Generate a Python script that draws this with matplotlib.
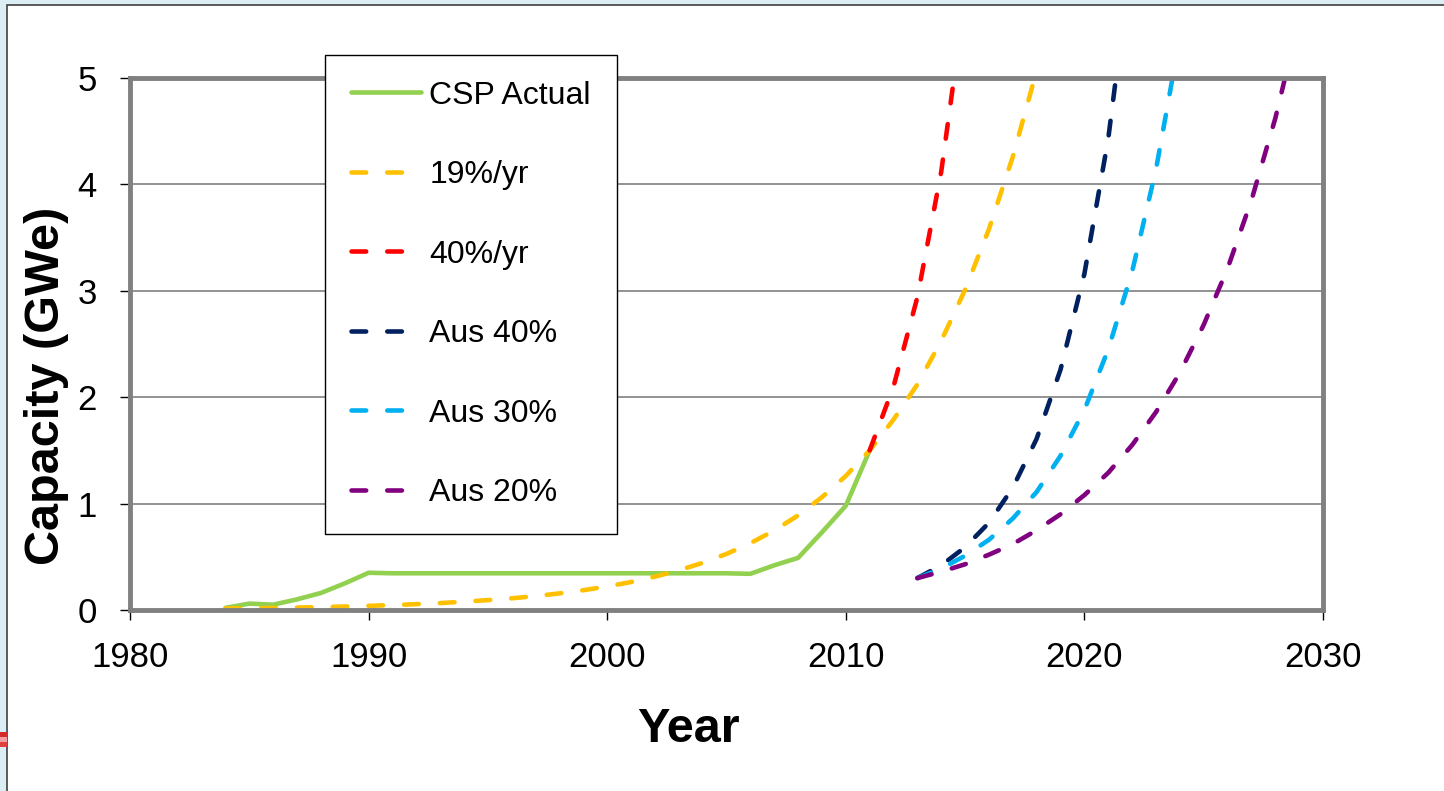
import matplotlib
matplotlib.use("Agg")
import matplotlib.pyplot as plt
from matplotlib.patches import Rectangle

plt.rcParams['font.family'] = ['Liberation Sans', 'DejaVu Sans']

# CSP installed capacity (GWe)
actual_years = [1984, 1985, 1986, 1987, 1988, 1989, 1990, 1991, 1995, 2000,
                2005, 2006, 2007, 2008, 2009, 2010, 2011]
actual_cap = [0.02, 0.06, 0.05, 0.10, 0.16, 0.25, 0.35, 0.345, 0.345, 0.345,
              0.345, 0.34, 0.42, 0.49, 0.73, 0.98, 1.50]

g19_years = list(range(1984, 2019))
g19_cap = [0.014, 0.016, 0.019, 0.023, 0.027, 0.033, 0.039, 0.046, 0.055, 0.065,
           0.078, 0.093, 0.110, 0.131, 0.156, 0.186, 0.221, 0.263, 0.313, 0.373,
           0.443, 0.527, 0.628, 0.747, 0.889, 1.06, 1.26, 1.50, 1.79, 2.12,
           2.53, 3.01, 3.58, 4.26, 5.07]

g40_years = [2011, 2012, 2013, 2014, 2015]
g40_cap = [1.50, 2.10, 2.94, 4.12, 5.76]

aus40_years = list(range(2013, 2023))
aus40_cap = [0.30, 0.42, 0.59, 0.82, 1.15, 1.61, 2.26, 3.16, 4.43, 6.20]

aus30_years = list(range(2013, 2025))
aus30_cap = [0.30, 0.39, 0.51, 0.66, 0.86, 1.11, 1.45, 1.88, 2.45, 3.18, 4.14, 5.38]

aus20_years = list(range(2013, 2030))
aus20_cap = [0.30, 0.36, 0.43, 0.52, 0.62, 0.75, 0.90, 1.08, 1.29, 1.55, 1.86,
             2.23, 2.68, 3.21, 3.85, 4.62, 5.55]

x_ticks = [1980, 1990, 2000, 2010, 2020, 2030]
y_ticks = [0, 1, 2, 3, 4, 5]

W, H = 1444, 791
fig = plt.figure(figsize=(W / 100, H / 100), dpi=100, facecolor='#daeef3')

# white slide panel with dark edge on left/top (kept behind the axes)
fig.patches.append(Rectangle((7 / W, -0.1), 1.2, 1.1 - 5 / H, transform=fig.transFigure,
                             facecolor='white', edgecolor='#404040', linewidth=1.2,
                             zorder=-10))
# small red fragment at the left edge
for y0, c in [(737, '#d42a2a'), (742, '#f0a0a0'), (747, '#e04040')]:
    fig.patches.append(Rectangle((0, 1 - y0 / H), 7 / W, 5 / H, transform=fig.transFigure,
                                 facecolor=c, edgecolor='none', zorder=-5))

ax = fig.add_axes([130 / W, 1 - 610 / H, (1323 - 130) / W, (610 - 78) / H])
ax.set_facecolor('white')

lw = 3.3
dash_kw = dict(linewidth=lw, dashes=(3.2, 4.6), dash_capstyle='round', solid_capstyle='round')

ax.plot(actual_years, actual_cap, color='#92d050', linewidth=lw, solid_capstyle='round',
        label='CSP Actual')
ax.plot(g19_years, g19_cap, color='#ffc000', label='19%/yr', **dash_kw)
ax.plot(g40_years, g40_cap, color='#ff0000', label='40%/yr', **dash_kw)
ax.plot(aus40_years, aus40_cap, color='#002060', label='Aus 40%', **dash_kw)
ax.plot(aus30_years, aus30_cap, color='#00b0f0', label='Aus 30%', **dash_kw)
ax.plot(aus20_years, aus20_cap, color='#800080', label='Aus 20%', **dash_kw)

ax.set_xlim(1980, 2030)
ax.set_ylim(0, 5)
ax.set_xticks(x_ticks)
ax.set_yticks(y_ticks)
ax.yaxis.grid(True, color='#808080', linewidth=1.2)
for s in ax.spines.values():
    s.set_color('#808080')
    s.set_linewidth(3.5)
ax.tick_params(axis='both', direction='out', length=7, width=1, color='black',
               labelsize=25, labelcolor='black')
ax.tick_params(axis='x', pad=15)
ax.tick_params(axis='y', pad=17)

fig.text(47 / W, 1 - 386 / H, 'Capacity (GWe)', rotation=90, ha='center', va='center',
         fontsize=35, fontweight='bold')
fig.text(688 / W, 1 - 742 / H, 'Year', ha='center', va='baseline',
         fontsize=35, fontweight='bold')

leg = fig.legend(loc='upper left', bbox_to_anchor=(325 / W, 1 - 55 / H),
                 bbox_transform=fig.transFigure, fontsize=23, frameon=True,
                 fancybox=False, shadow=False, framealpha=1, edgecolor='black',
                 borderpad=0.8, borderaxespad=0, handlelength=2.19,
                 handletextpad=0.28, labelspacing=1.55)
leg.get_frame().set_linewidth(1.0)

fig.savefig('out.png', dpi=100, facecolor=fig.get_facecolor())
